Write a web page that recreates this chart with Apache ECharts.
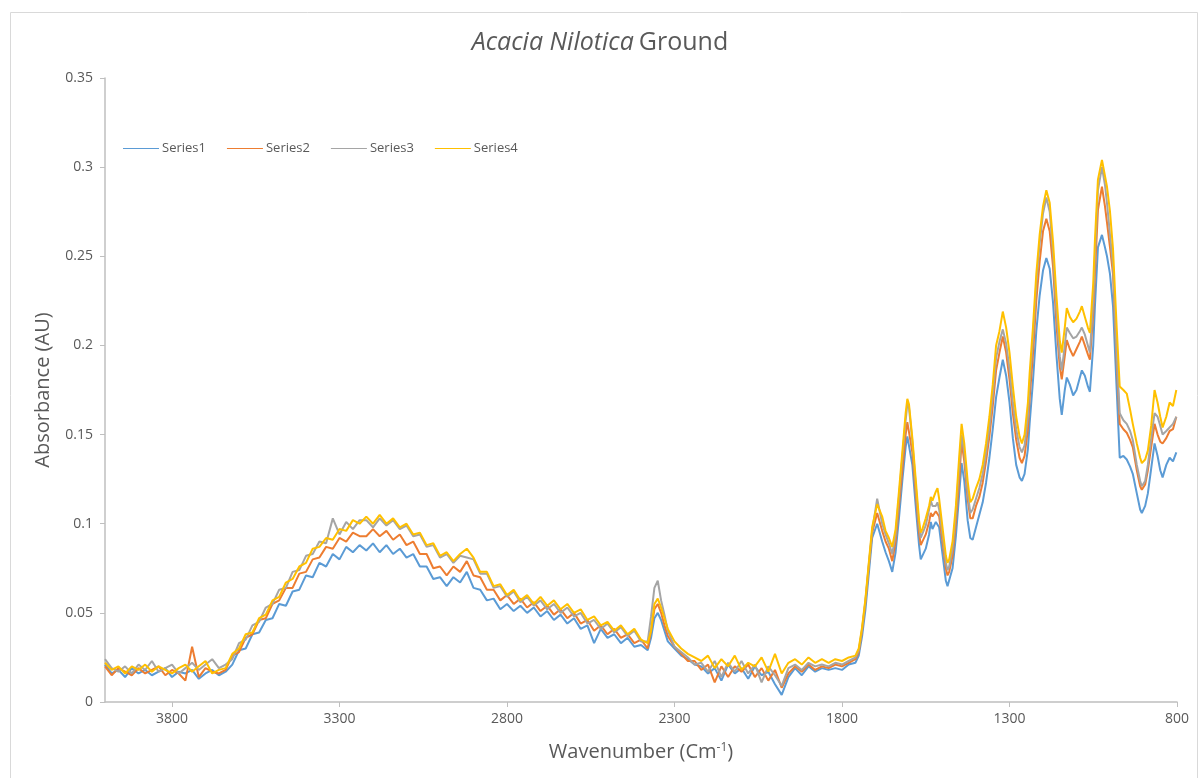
<!DOCTYPE html>
<html>
<head>
<meta charset="utf-8">
<script src="https://cdn.jsdelivr.net/npm/echarts@6/dist/echarts.min.js"></script>
<style>
html,body{margin:0;padding:0;background:#fff;}
#c{width:1200px;height:778px;}
</style>
</head>
<body>
<div id="c"></div>
<script>
// ---- Data (wavenumber in cm-1, absorbance in AU) ----
const seriesNames = ['Series1','Series2','Series3','Series4'];
const xTickValues = [800,1300,1800,2300,2800,3300,3800];

const wnA = [4000,3980,3960,3940,3920,3900,3880,3860,3840,3820,
3800,3780,3760,3740,3720,3700,3680,3660,3640,3620,
3600,3580,3560,3540,3520,3500,3480,3460,3440,3420,
3400,3380,3360,3340,3320,3300,3280,3260,3240,3220,
3200,3180,3160,3140,3120,3100,3080,3060,3040,3020,
3000,2980,2960,2940,2920,2900,2880,2860,2840,2820,
2800,2780,2760,2740,2720,2700,2680,2660,2640,2620,
2600,2580,2560,2540,2520,2500,2480,2460,2440,2420,
2400,2380];
const s1A = [.021,.016,.018,.014,.019,.016,.018,.015,.017,.019,
.014,.017,.016,.018,.013,.016,.018,.015,.017,.021,
.029,.030,.038,.039,.046,.047,.055,.054,.062,.063,
.071,.070,.078,.076,.083,.080,.087,.084,.088,.085,
.089,.084,.088,.083,.086,.081,.083,.076,.076,.069,
.070,.065,.070,.067,.073,.064,.063,.057,.058,.052,
.055,.051,.054,.050,.053,.048,.051,.046,.049,.044,
.047,.041,.043,.033,.041,.036,.038,.033,.036,.031,
.032,.029];
const s2A = [.020,.015,.019,.017,.015,.019,.016,.018,.020,.015,
.018,.016,.012,.031,.014,.019,.017,.016,.018,.026,
.028,.036,.038,.046,.047,.055,.057,.064,.064,.072,
.073,.080,.081,.087,.086,.092,.090,.095,.093,.093,
.097,.093,.096,.091,.094,.088,.090,.083,.083,.075,
.076,.071,.076,.073,.079,.071,.070,.063,.063,.057,
.060,.055,.058,.053,.056,.051,.054,.049,.052,.047,
.050,.044,.046,.040,.043,.038,.041,.036,.038,.033,
.035,.030];
const s3A = [.024,.019,.017,.020,.016,.021,.018,.023,.017,.019,
.021,.016,.019,.022,.018,.021,.024,.019,.021,.024,
.033,.035,.043,.045,.053,.055,.063,.064,.073,.074,
.082,.083,.090,.089,.103,.094,.101,.097,.102,.102,
.098,.103,.099,.102,.097,.099,.093,.094,.087,.088,
.081,.083,.078,.082,.081,.080,.072,.072,.064,.065,
.059,.062,.056,.059,.054,.057,.052,.055,.050,.053,
.048,.050,.044,.046,.041,.044,.039,.042,.037,.040,
.034,.034];
const s4A = [.022,.018,.020,.016,.020,.018,.021,.017,.020,.018,
.016,.019,.021,.017,.020,.023,.016,.018,.019,.027,
.030,.038,.039,.047,.049,.057,.059,.067,.069,.076,
.078,.086,.087,.092,.091,.097,.096,.102,.100,.104,
.100,.105,.100,.103,.098,.100,.094,.095,.088,.089,
.082,.084,.079,.083,.086,.081,.073,.073,.065,.066,
.060,.063,.057,.060,.055,.059,.054,.057,.052,.055,
.050,.052,.046,.048,.043,.045,.040,.043,.038,.041,
.035,.033];

const wnC = [2370,2360,2350,2340,2330,2320,
2300,2280,2260,2240,2220,2200,2180,2160,2140,2120,
2100,2080,2060,2040,2020,2000,1980,1960,1940,1920,
1900,1880,1860,1840,1820,1800,1780];
const s1C = [.036,.047,.050,.046,.040,.034,
.030,.026,.024,.021,.020,.016,.019,.012,.021,.016,
.019,.013,.020,.015,.017,.010,.004,.014,.019,.015,
.020,.017,.019,.018,.019,.018,.021];
const s2C = [.040,.052,.055,.050,.043,.037,
.031,.027,.023,.023,.018,.021,.011,.020,.014,.020,
.017,.021,.014,.019,.012,.018,.008,.016,.020,.017,
.021,.018,.020,.019,.021,.020,.022];
const s3C = [.048,.064,.068,.057,.049,.040,
.031,.028,.025,.021,.022,.017,.023,.014,.022,.017,
.023,.016,.021,.011,.020,.015,.009,.019,.021,.018,
.022,.020,.021,.020,.022,.021,.023];
const s4C = [.040,.055,.058,.053,.047,.041,
.034,.030,.027,.025,.023,.026,.019,.024,.020,.026,
.018,.022,.020,.025,.017,.027,.016,.022,.024,.021,
.025,.022,.024,.022,.024,.023,.025];

const wnD = [1760,1750,1740,1730,1720,1710,1695,1680,1670,1660,
1650,1640,1630,1620,1610,1605,1600,1590,1580,1570,
1565,1560,1550,1540,1535,1530,1520,1515,1510,1500,
1490,1485,1480,1470,1460,1450,1443,1435,1425,1417,
1410,1400,1390,1380,1370,1360,1350,1340,1330,1320,
1310,1300,1290,1280,1270,1263,1255,1245,1240,1230,
1220,1210,1200,1190,1180,1170,1160,1150,1144,1135,
1129,1120,1110,1100,1090,1084,1075,1066,1060,1050,
1045,1036,1024,1015,1009,1000,991,980,971,960,
950,940,932,920,910,905,895,887,877,867,
858,850,843,832,822,812,802];
const s1D = [.022,.026,.037,.052,.072,.092,.100,.090,.084,.079,
.073,.084,.103,.124,.143,.149,.148,.133,.110,.088,
.080,.081,.086,.094,.101,.097,.101,.102,.098,.083,
.068,.065,.066,.075,.093,.117,.134,.124,.102,.092,
.091,.098,.105,.112,.123,.137,.153,.171,.182,.192,
.183,.168,.148,.133,.126,.124,.128,.142,.156,.180,
.208,.228,.242,.249,.243,.224,.195,.170,.161,.175,
.182,.178,.172,.175,.182,.186,.183,.177,.174,.200,
.222,.255,.262,.255,.250,.240,.222,.175,.137,.138,
.136,.132,.128,.117,.108,.106,.110,.117,.131,.145,
.138,.130,.126,.133,.137,.135,.140];
const s2D = [.024,.028,.040,.056,.076,.095,.106,.096,.090,.086,
.079,.090,.110,.130,.150,.157,.156,.140,.117,.095,
.088,.088,.094,.101,.106,.104,.107,.108,.104,.090,
.075,.071,.073,.082,.101,.125,.146,.135,.114,.103,
.103,.110,.115,.123,.135,.149,.166,.186,.196,.205,
.196,.181,.162,.147,.137,.134,.138,.153,.170,.195,
.225,.247,.264,.271,.264,.244,.212,.188,.181,.194,
.203,.198,.194,.198,.202,.205,.200,.195,.192,.218,
.240,.276,.289,.278,.269,.255,.240,.190,.156,.153,
.151,.147,.143,.130,.121,.119,.122,.130,.143,.156,
.150,.146,.145,.148,.152,.153,.160];
const s3D = [.025,.029,.041,.057,.077,.096,.114,.100,.094,.089,
.083,.094,.115,.137,.158,.167,.165,.146,.122,.099,
.092,.093,.099,.108,.113,.110,.110,.112,.108,.094,
.078,.074,.076,.086,.106,.133,.150,.140,.118,.106,
.108,.114,.120,.128,.140,.154,.172,.193,.202,.209,
.201,.187,.168,.153,.143,.140,.144,.160,.178,.204,
.235,.257,.274,.283,.275,.252,.220,.194,.186,.200,
.210,.207,.204,.205,.208,.210,.206,.200,.196,.225,
.250,.287,.300,.290,.280,.262,.245,.195,.162,.158,
.156,.152,.147,.133,.124,.121,.124,.133,.148,.162,
.160,.155,.150,.152,.154,.156,.160];
const s4D = [.026,.030,.042,.058,.078,.098,.111,.104,.096,.092,
.087,.097,.118,.140,.162,.170,.167,.148,.125,.102,
.095,.097,.103,.110,.115,.113,.118,.120,.114,.098,
.082,.078,.080,.090,.110,.138,.156,.145,.124,.112,
.114,.120,.125,.133,.145,.160,.178,.200,.208,.219,
.210,.196,.177,.160,.149,.145,.150,.168,.184,.210,
.240,.262,.278,.287,.280,.258,.228,.203,.196,.210,
.221,.216,.213,.215,.219,.222,.216,.210,.207,.235,
.259,.293,.304,.295,.289,.275,.254,.210,.177,.175,
.173,.164,.156,.145,.137,.134,.136,.141,.155,.175,
.168,.160,.154,.160,.168,.166,.175];

// ---- Build ----
const wn = wnA.concat(wnC, wnD);
const values = [
  s1A.concat(s1C, s1D),
  s2A.concat(s2C, s2D),
  s3A.concat(s3C, s3D),
  s4A.concat(s4C, s4D)
];
values.forEach((v,k)=>{ if (v.length !== wn.length) console.error('length mismatch', k, v.length, wn.length); });

const colors = ['#5B9BD5','#ED7D31','#A5A5A5','#FFC000'];
const FONT = 'Open Sans';
const chart = echarts.init(document.getElementById('c'), null, {renderer:'canvas'});
chart.setOption({
  animation: false,
  color: colors,
  graphic: [{
    type: 'rect', left: 8, top: 10, shape: {width: 1187, height: 766},
    style: {fill: 'none', stroke: '#d9d9d9', lineWidth: 1}, silent: true, z: -10
  }],
  title: {
    text: '{i|Acacia Nilotica} {n|Ground}',
    left: 'center', top: 25,
    textStyle: {
      fontWeight: 'normal',
      rich: {
        i: {fontFamily: FONT, fontSize: 25, fontStyle: 'italic', fontWeight: 'normal', color: '#595959'},
        n: {fontFamily: FONT, fontSize: 25, fontWeight: 'normal', color: '#595959'}
      }
    }
  },
  legend: {
    data: seriesNames,
    left: 118, top: 137,
    itemWidth: 36, itemHeight: 10, itemGap: 21,
    icon: 'path://M0,4.5 L36,4.5 L36,5.5 L0,5.5 Z',
    textStyle: {fontFamily: FONT, fontSize: 13, color: '#595959', padding: [0,0,0,-2]}
  },
  grid: {left: 105, right: 23, top: 78, bottom: 76, containLabel: false},
  xAxis: {
    type: 'value', min: 800, max: 4000, inverse: true,
    name: '{t|Wavenumber (Cm}{s|-1}{t|)}',
    nameLocation: 'middle', nameGap: 40,
    nameTextStyle: {
      rich: {
        t: {fontFamily: FONT, fontSize: 20, color: '#595959'},
        s: {fontFamily: FONT, fontSize: 12, color: '#595959', verticalAlign: 'top', padding: [0,0,8,0]}
      }
    },
    axisLine: {show: true, lineStyle: {color: '#bfbfbf', width: 1.5}},
    axisTick: {show: true, length: 5, lineStyle: {color: '#bfbfbf'}, customValues: xTickValues},
    axisLabel: {fontFamily: FONT, fontSize: 14, color: '#595959', margin: 10, customValues: xTickValues,
      formatter: v => String(v)},
    splitLine: {show: false}
  },
  yAxis: {
    type: 'value', min: 0, max: 0.35, interval: 0.05,
    name: 'Absorbance (AU)', nameLocation: 'middle', nameGap: 52,
    nameTextStyle: {fontFamily: FONT, fontSize: 20, color: '#595959'},
    axisLine: {show: true, onZero: false, lineStyle: {color: '#bfbfbf', width: 1.5}},
    axisTick: {show: true, length: 5, lineStyle: {color: '#bfbfbf'}},
    axisLabel: {fontFamily: FONT, fontSize: 14, color: '#595959', margin: 12,
      formatter: v => String(Math.round(v*100)/100)},
    splitLine: {show: false}
  },
  series: seriesNames.map((n,k)=>({
    name: n, type: 'line', showSymbol: false, symbol: 'none',
    lineStyle: {width: 2, color: colors[k]},
    itemStyle: {color: colors[k]},
    data: wn.map((w,i)=>[w, values[k][i]])
  }))
});
</script>
</body>
</html>
